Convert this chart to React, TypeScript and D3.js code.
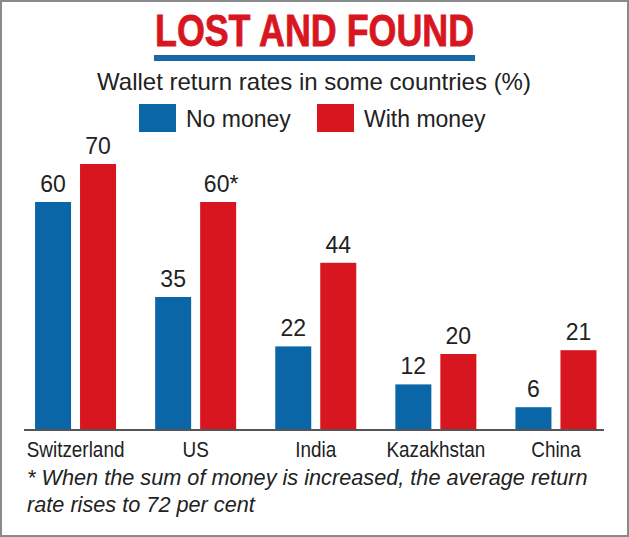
import { FC, useEffect, useRef } from 'react';
import * as d3 from 'd3';

const countries = ['Switzerland', 'US', 'India', 'Kazakhstan', 'China'];
const noMoney = [60, 35, 22, 12, 6];
const withMoney = [70, 60, 44, 20, 21];
const withMoneyLabels = ['70', '60*', '44', '20', '21'];
const seriesNames = ['No money', 'With money'];

const BLUE = '#0b66a7';
const RED = '#d8161f';
const FONT = '"Liberation Sans", Arial, sans-serif';

const App: FC = () => {
  const ref = useRef<SVGSVGElement | null>(null);

  useEffect(() => {
    const svg = d3.select(ref.current);
    svg.selectAll('*').remove();

    const width = 629;
    const height = 537;
    const baseline = 430;

    svg.append('rect')
      .attr('x', 1).attr('y', 1)
      .attr('width', width - 2).attr('height', height - 2)
      .attr('fill', '#fff')
      .attr('stroke', '#8a8a8a')
      .attr('stroke-width', 2);

    // title + underline (condensed via textLength, no narrow font installed)
    svg.append('text')
      .attr('x', 155).attr('y', 46)
      .attr('font-family', FONT)
      .attr('font-weight', 'bold')
      .attr('font-size', 44)
      .attr('textLength', 319)
      .attr('lengthAdjust', 'spacingAndGlyphs')
      .attr('fill', RED)
      .attr('stroke', RED)
      .attr('stroke-width', 0.8)
      .text('LOST AND FOUND');

    svg.append('rect')
      .attr('x', 154).attr('y', 55)
      .attr('width', 321).attr('height', 6)
      .attr('fill', '#1b69a4');

    svg.append('text')
      .attr('x', 314).attr('y', 90)
      .attr('text-anchor', 'middle')
      .attr('font-family', FONT)
      .attr('font-size', 24)
      .attr('fill', '#222')
      .text('Wallet return rates in some countries (%)');

    // legend
    const legendX = [139, 317];
    const legend = svg.append('g')
      .selectAll('g')
      .data(seriesNames)
      .enter()
      .append('g')
      .attr('transform', (d, i) => `translate(${legendX[i]},104)`);

    legend.append('rect')
      .attr('width', 37).attr('height', 28)
      .attr('fill', (d, i) => (i === 0 ? BLUE : RED));

    legend.append('text')
      .attr('x', 47).attr('y', 23)
      .attr('font-family', FONT)
      .attr('font-size', 23)
      .attr('fill', '#222')
      .text(d => d);

    // scales
    const x = d3.scaleBand().domain(countries).range([15.5, 616]);
    const inner = d3.scaleBand().domain(seriesNames).range([0, 81]).paddingInner(0.2);
    const y = d3.scaleLinear().domain([0, 70]).range([baseline, baseline - 266]);
    const groupLeft = (c: string) => x(c)! + x.bandwidth() / 2 - 40.5;

    const rows = countries.map((c, i) => ({
      country: c,
      values: [
        { key: seriesNames[0], value: noMoney[i], label: String(noMoney[i]) },
        { key: seriesNames[1], value: withMoney[i], label: withMoneyLabels[i] },
      ],
    }));

    const groups = svg.append('g')
      .selectAll('g')
      .data(rows)
      .enter()
      .append('g')
      .attr('transform', d => `translate(${groupLeft(d.country)},0)`);

    groups.selectAll('rect')
      .data(d => d.values)
      .enter()
      .append('rect')
      .attr('x', d => inner(d.key)!)
      .attr('y', d => y(d.value))
      .attr('width', inner.bandwidth())
      .attr('height', d => baseline - y(d.value))
      .attr('fill', d => (d.key === seriesNames[0] ? BLUE : RED));

    groups.selectAll('text')
      .data(d => d.values)
      .enter()
      .append('text')
      .attr('x', d => inner(d.key)! + inner.bandwidth() / 2 + (d.label.endsWith('*') ? 3 : 0))
      .attr('y', d => y(d.value) - 10)
      .attr('text-anchor', 'middle')
      .attr('font-family', FONT)
      .attr('font-size', 23)
      .attr('fill', '#222')
      .text(d => d.label);

    // axis
    svg.append('line')
      .attr('x1', 24).attr('x2', 604)
      .attr('y1', baseline).attr('y2', baseline)
      .attr('stroke', '#555')
      .attr('stroke-width', 2);

    svg.append('g')
      .selectAll('g')
      .data(countries)
      .enter()
      .append('g')
      .attr('transform', d => `translate(${x(d)! + x.bandwidth() / 2},457) scale(0.86,1)`)
      .append('text')
      .attr('text-anchor', 'middle')
      .attr('font-family', FONT)
      .attr('font-size', 22)
      .attr('fill', '#222')
      .text(d => d);

    // footnote
    const note = svg.append('text')
      .attr('font-family', FONT)
      .attr('font-style', 'italic')
      .attr('font-size', 21.7)
      .attr('fill', '#222');
    note.append('tspan').attr('x', 27).attr('y', 485)
      .text('* When the sum of money is increased, the average return');
    note.append('tspan').attr('x', 27).attr('y', 512)
      .text('rate rises to 72 per cent');
  }, []);

  return (
    <svg
      ref={ref}
      width={629}
      height={537}
      style={{ position: 'absolute', left: 0, top: 0, display: 'block' }}
    />
  );
};

export default App;
